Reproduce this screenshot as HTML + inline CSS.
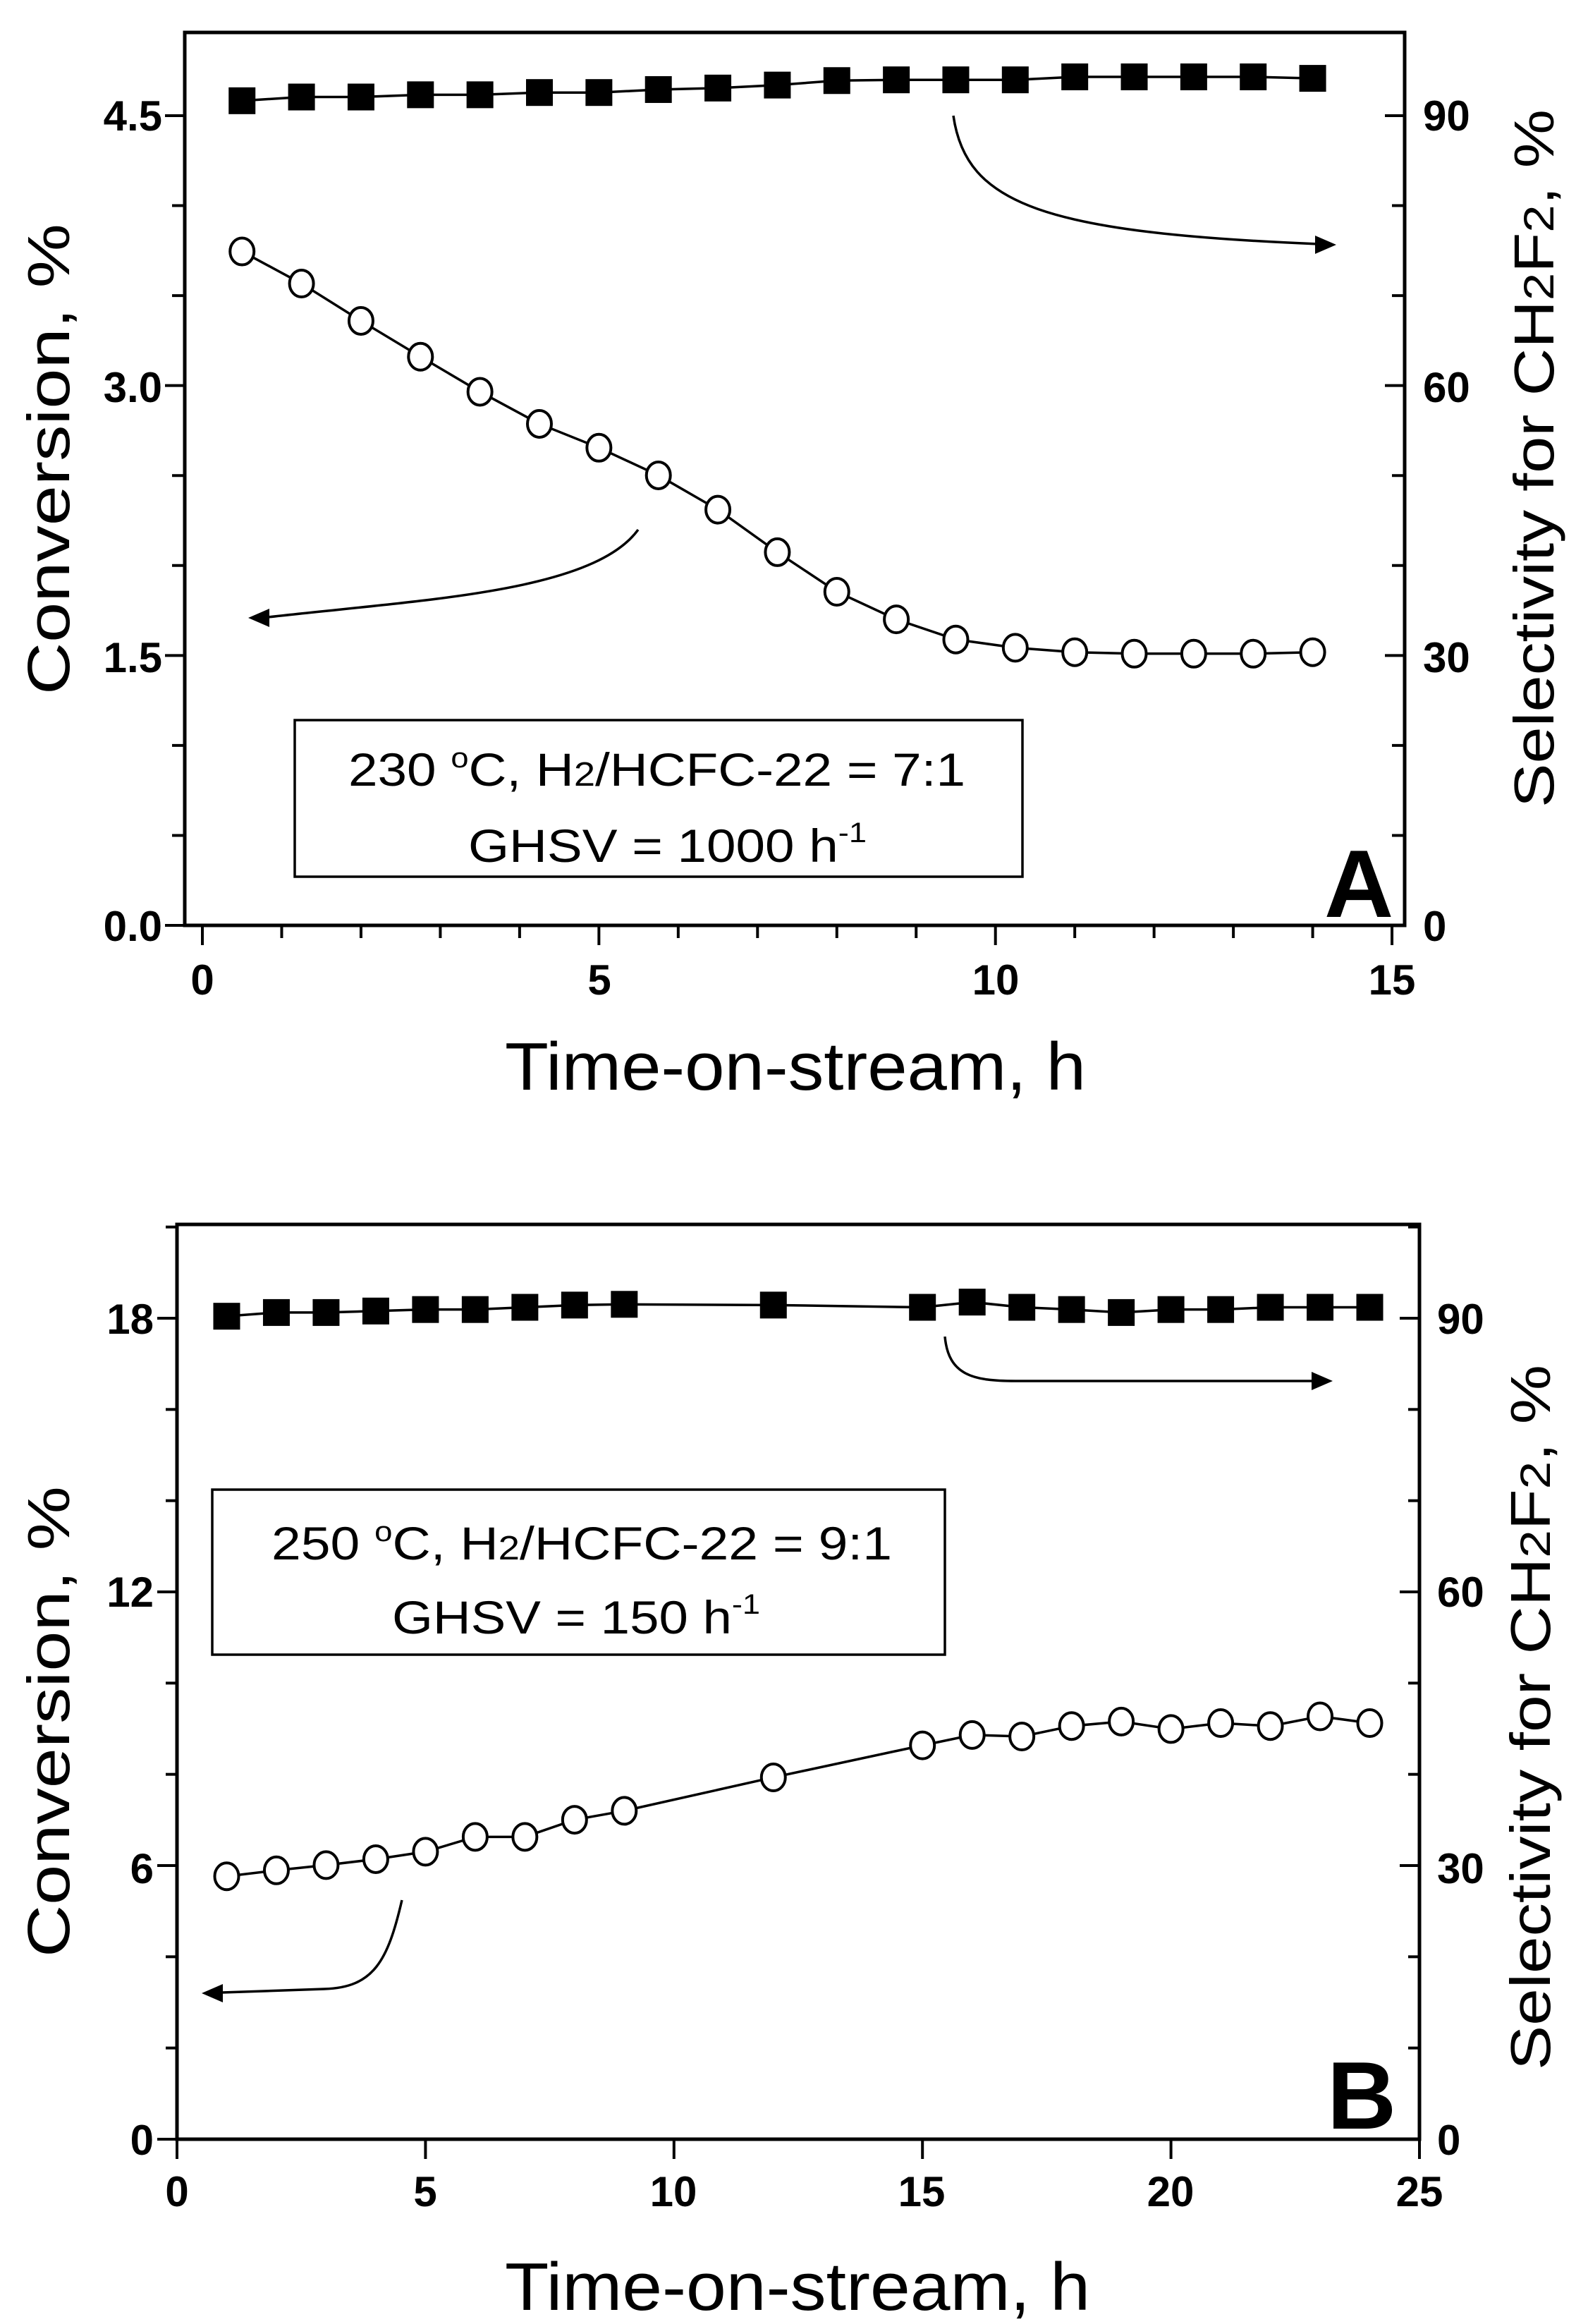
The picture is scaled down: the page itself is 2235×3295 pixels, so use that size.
<!DOCTYPE html>
<html><head><meta charset="utf-8"><style>
html,body{margin:0;padding:0;background:#fff;}
svg{display:block;}
text{font-family:"Liberation Sans",sans-serif;fill:#000;}
</style></head><body>
<svg width="2235" height="3295" viewBox="0 0 2235 3295" xmlns="http://www.w3.org/2000/svg">
<g id="A">
<rect x="262" y="46" width="1730" height="1266" fill="none" stroke="#000" stroke-width="5"/>
</g>
<g id="B">
<rect x="251" y="1736" width="1762" height="1297" fill="none" stroke="#000" stroke-width="5"/>
</g>
<g id="dyn"></g>
<g font-weight="bold" font-size="60">
<text x="230" y="185" text-anchor="end">4.5</text>
<text x="230" y="570" text-anchor="end">3.0</text>
<text x="230" y="953" text-anchor="end">1.5</text>
<text x="230" y="1334" text-anchor="end">0.0</text>
<text x="2018" y="185">90</text>
<text x="2018" y="570">60</text>
<text x="2018" y="953">30</text>
<text x="2018" y="1334">0</text>
<text x="287" y="1410" text-anchor="middle">0</text>
<text x="850" y="1410" text-anchor="middle">5</text>
<text x="1412" y="1410" text-anchor="middle">10</text>
<text x="1974" y="1410" text-anchor="middle">15</text>
</g>
<text x="716" y="1545" font-size="96" textLength="824" lengthAdjust="spacingAndGlyphs">Time-on-stream, h</text>
<text transform="translate(98,985) rotate(-90)" font-size="84" textLength="668" lengthAdjust="spacingAndGlyphs">Conversion, %</text>
<text transform="translate(2203,1145) rotate(-90)" font-size="80" textLength="990" lengthAdjust="spacingAndGlyphs">Selectivity for CH<tspan font-size="60">2</tspan>F<tspan font-size="60">2</tspan>, %</text>
<rect x="418" y="1021" width="1032" height="222" fill="none" stroke="#000" stroke-width="3.5"/>
<text x="494" y="1114" font-size="66" textLength="875" lengthAdjust="spacingAndGlyphs">230 <tspan font-size="40" dy="-26">o</tspan><tspan dy="26">C, H</tspan><tspan font-size="48">2</tspan>/HCFC-22 = 7:1</text>
<text x="664" y="1222" font-size="66" textLength="565" lengthAdjust="spacingAndGlyphs">GHSV = 1000 h<tspan font-size="40" dy="-28">-1</tspan></text>
<text x="1878" y="1300" font-size="136" font-weight="bold">A</text>
<g font-weight="bold" font-size="60">
<text x="218" y="1891" text-anchor="end">18</text>
<text x="218" y="2278" text-anchor="end">12</text>
<text x="218" y="2670" text-anchor="end">6</text>
<text x="218" y="3055" text-anchor="end">0</text>
<text x="2038" y="1891">90</text>
<text x="2038" y="2278">60</text>
<text x="2038" y="2670">30</text>
<text x="2038" y="3055">0</text>
<text x="251" y="3128" text-anchor="middle">0</text>
<text x="603" y="3128" text-anchor="middle">5</text>
<text x="955" y="3128" text-anchor="middle">10</text>
<text x="1307" y="3128" text-anchor="middle">15</text>
<text x="1660" y="3128" text-anchor="middle">20</text>
<text x="2013" y="3128" text-anchor="middle">25</text>
</g>
<text x="716" y="3275" font-size="96" textLength="830" lengthAdjust="spacingAndGlyphs">Time-on-stream, h</text>
<text transform="translate(98,2775) rotate(-90)" font-size="84" textLength="668" lengthAdjust="spacingAndGlyphs">Conversion, %</text>
<text transform="translate(2198,2935) rotate(-90)" font-size="80" textLength="1000" lengthAdjust="spacingAndGlyphs">Selectivity for CH<tspan font-size="60">2</tspan>F<tspan font-size="60">2</tspan>, %</text>
<rect x="301" y="2112" width="1039" height="234" fill="none" stroke="#000" stroke-width="3.5"/>
<text x="385" y="2211" font-size="66" textLength="880" lengthAdjust="spacingAndGlyphs">250 <tspan font-size="40" dy="-26">o</tspan><tspan dy="26">C, H</tspan><tspan font-size="48">2</tspan>/HCFC-22 = 9:1</text>
<text x="556" y="2316" font-size="66" textLength="522" lengthAdjust="spacingAndGlyphs">GHSV = 150 h<tspan font-size="40" dy="-28">-1</tspan></text>
<text x="1882" y="3018" font-size="136" font-weight="bold">B</text>
</svg>
<script>
(function(){
var NS="http://www.w3.org/2000/svg";
var g=document.getElementById("dyn");
function el(n,a){var e=document.createElementNS(NS,n);for(var k in a)e.setAttribute(k,a[k]);g.appendChild(e);return e;}
function line(x1,y1,x2,y2,w){el("line",{x1:x1,y1:y1,x2:x2,y2:y2,stroke:"#000","stroke-width":w||4});}
var ax0=287,aux=112.47,ay0=1312,ayu=(1312-164)/4.5;
for(var t=0;t<=15;t++){var x=ax0+t*aux;line(x,1312,x,t%5?1330:1340);}
for(var v=0;v<=4.51;v+=0.5){var y=ay0-v*ayu;var maj=Math.abs(v/1.5-Math.round(v/1.5))<0.01;line(262,y,maj?234:244,y);line(1992,y,maj?1964:1974,y);}
var bx0=251,bux=70.48,by0=3033,byu=(3033-1869)/18;
for(var t=0;t<=25;t+=5){var x=bx0+t*bux;line(x,3033,x,3061);}
for(var v=0;v<=20.1;v+=2){var y=by0-v*byu;var maj=(v%6===0);line(251,y,maj?223:235,y);line(2013,y,maj?1985:1997,y);}
function series(pts,sq){
 var d="";pts.forEach(function(p,i){d+=(i?"L":"M")+p[0]+" "+p[1];});
 el("path",{d:d,fill:"none",stroke:"#000","stroke-width":3.5});
 pts.forEach(function(p){
  if(sq)el("rect",{x:p[0]-19,y:p[1]-19,width:38,height:38,fill:"#000"});
  else el("ellipse",{cx:p[0],cy:p[1],rx:17,ry:19,fill:"#fff",stroke:"#000","stroke-width":4});
 });
}
var sqA=[135,130,130,127,127,124,124,120,118,114,108,107,107,107,103,103,103,103,105];
var ciA=[337,380,430,478,525,568,600,637,683,740,793,830,857,868,874,876,876,876,874];
var pS=[],pC=[];
for(var i=0;i<19;i++){var x=ax0+(0.5+0.75*i)*aux;pS.push([x,sqA[i]*1.058]);pC.push([x,ciA[i]*1.058]);}
series(pC,false);series(pS,true);
var xsB=[1,2,3,4,5,6,7,8,9,12,15,16,17,18,19,20,21,22,23,24];
var sqB=[205,200,200,198,196,196,193,190,189,190,193,186,193,196,200,196,196,193,193,193];
var ciB=[958,950,943,935,925,905,905,882,870,825,782,768,770,756,750,760,752,756,743,752];
pS=[];pC=[];
for(var i=0;i<xsB.length;i++){var x=bx0+xsB[i]*bux;pS.push([x,1650+sqB[i]*1.0545]);pC.push([x,1650+ciB[i]*1.0545]);}
series(pC,false);series(pS,true);
function arrow(d,tip,dir){
 el("path",{d:d,fill:"none",stroke:"#000","stroke-width":3.5});
 var x=tip[0],y=tip[1],s=dir;
 el("polygon",{points:x+","+y+" "+(x-30*s)+","+(y-13)+" "+(x-30*s)+","+(y+13),fill:"#000"});
}
arrow("M1352 164 C1370 290 1480 330 1870 346",[1895,347],1);
arrow("M905 751 C840 840 600 850 380 875",[352,876],-1);
arrow("M1340 1895 C1345 1950 1380 1958 1440 1958 L1862 1958",[1890,1958],1);
arrow("M570 2694 C550 2780 530 2818 460 2820 L315 2825",[286,2826],-1);
})();
</script>
</body></html>
